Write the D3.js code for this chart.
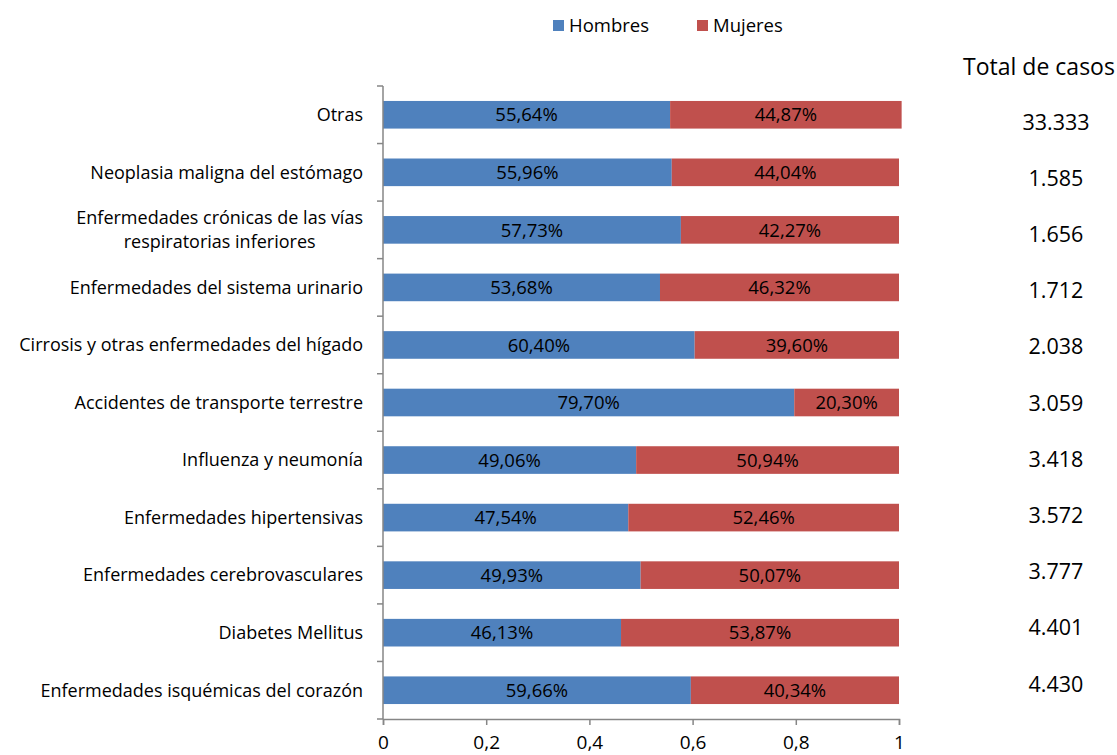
<!DOCTYPE html>
<html>
<head>
<meta charset="utf-8">
<script src="https://cdn.jsdelivr.net/npm/d3@7"></script>
<style>
  body { margin: 0; background: #fff; }
  text { font-family: "Open Sans", sans-serif; fill: #000; }
</style>
</head>
<body>
<script>
// categories, top to bottom
const categories = [
  "Otras",
  "Neoplasia maligna del estómago",
  "Enfermedades crónicas de las vías|respiratorias inferiores",
  "Enfermedades del sistema urinario",
  "Cirrosis y otras enfermedades del hígado",
  "Accidentes de transporte terrestre",
  "Influenza y neumonía",
  "Enfermedades hipertensivas",
  "Enfermedades cerebrovasculares",
  "Diabetes Mellitus",
  "Enfermedades isquémicas del corazón"
];
const hombres = [55.64, 55.96, 57.73, 53.68, 60.40, 79.70, 49.06, 47.54, 49.93, 46.13, 59.66];
const mujeres = [44.87, 44.04, 42.27, 46.32, 39.60, 20.30, 50.94, 52.46, 50.07, 53.87, 40.34];
const totales = ["33.333", "1.585", "1.656", "1.712", "2.038", "3.059", "3.418", "3.572", "3.777", "4.401", "4.430"];
const xTicks = [0, 0.2, 0.4, 0.6, 0.8, 1];
const series = ["Hombres", "Mujeres"];

const WIDTH = 1117, HEIGHT = 755;
const MARGIN = { top: 86, left: 383, right: 218, bottom: 36 };
const colors = { Hombres: "#4F81BD", Mujeres: "#C0504D" };

const svg = d3.select("body").append("svg")
  .attr("width", WIDTH)
  .attr("height", HEIGHT);

const x = d3.scaleLinear().domain([0, 1]).range([MARGIN.left, WIDTH - MARGIN.right]);
const y = d3.scaleBand().domain(categories)
  .range([MARGIN.top, HEIGHT - MARGIN.bottom])
  .paddingInner(0.52).paddingOuter(0.26);

// bars
const rows = categories.map((c, i) => ({ cat: c, h: hombres[i] / 100, m: mujeres[i] / 100, hl: hombres[i], ml: mujeres[i] }));

const g = svg.append("g");
g.selectAll("rect.h").data(rows).enter().append("rect")
  .attr("class", "h")
  .attr("x", x(0))
  .attr("y", d => y(d.cat))
  .attr("width", d => x(d.h) - x(0))
  .attr("height", y.bandwidth())
  .attr("fill", colors.Hombres);

g.selectAll("rect.m").data(rows).enter().append("rect")
  .attr("class", "m")
  .attr("x", d => x(d.h))
  .attr("y", d => y(d.cat))
  .attr("width", d => x(d.h + d.m) - x(d.h))
  .attr("height", y.bandwidth())
  .attr("fill", colors.Mujeres);

const fmt = v => v.toFixed(2).replace(".", ",") + "%";

g.selectAll("text.hl").data(rows).enter().append("text")
  .attr("x", d => (x(0) + x(d.h)) / 2)
  .attr("y", d => y(d.cat) + y.bandwidth() / 2)
  .attr("dy", "0.36em")
  .attr("text-anchor", "middle")
  .attr("font-size", "18.5px")
  .text(d => fmt(d.hl));

g.selectAll("text.ml").data(rows).enter().append("text")
  .attr("x", d => (x(d.h) + x(d.h + d.m)) / 2)
  .attr("y", d => y(d.cat) + y.bandwidth() / 2)
  .attr("dy", "0.36em")
  .attr("text-anchor", "middle")
  .attr("font-size", "18.5px")
  .text(d => fmt(d.ml));

// y axis line + ticks at band boundaries
const axisColor = "#868686";
const yBottom = HEIGHT - MARGIN.bottom;
svg.append("line")
  .attr("x1", x(0)).attr("x2", x(0))
  .attr("y1", MARGIN.top).attr("y2", yBottom)
  .attr("stroke", axisColor).attr("stroke-width", 1.5);

const step = y.step();
const bounds = d3.range(categories.length + 1).map(i => y(categories[0]) - (step - y.bandwidth()) / 2 + i * step);
svg.selectAll("line.ytick").data(bounds).enter().append("line")
  .attr("x1", x(0) - 6).attr("x2", x(0))
  .attr("y1", d => d).attr("y2", d => d)
  .attr("stroke", axisColor).attr("stroke-width", 1.5);

// category labels
const labels = svg.append("g");
rows.forEach(d => {
  const lines = d.cat.split("|");
  const cy = y(d.cat) + y.bandwidth() / 2;
  const t = labels.append("text")
    .attr("font-size", "18px")
    .attr("text-anchor", lines.length > 1 ? "middle" : "end");
  lines.forEach((l, j) => {
    t.append("tspan")
      .attr("x", 0)
      .attr("y", cy + (j - (lines.length - 1) / 2) * 24)
      .attr("dy", "0.35em")
      .text(l);
  });
  if (lines.length > 1) {
    const w = d3.max(t.selectAll("tspan").nodes(), n => n.getComputedTextLength());
    t.selectAll("tspan").attr("x", x(0) - 20 - w / 2);
  } else {
    t.selectAll("tspan").attr("x", x(0) - 20);
  }
});

// x axis
const xAxis = d3.axisBottom(x)
  .tickValues(xTicks)
  .tickSize(6)
  .tickFormat(d => String(d).replace(".", ","));
const xa = svg.append("g")
  .attr("transform", "translate(0," + yBottom + ")")
  .call(xAxis);
xa.select(".domain").attr("stroke", axisColor).attr("stroke-width", 1.5);
xa.selectAll(".tick line").attr("stroke", axisColor).attr("stroke-width", 1.5);
xa.selectAll(".tick text")
  .attr("font-size", "19px")
  .attr("font-family", "'Open Sans', sans-serif")
  .attr("fill", "#000")
  .attr("dy", "1.12em");

// totals column
svg.append("text")
  .attr("x", 1039).attr("y", 67)
  .attr("dy", "0.35em")
  .attr("text-anchor", "middle")
  .attr("font-size", "23px")
  .text("Total de casos");

const yt = d3.scalePoint().domain(categories).range([122, 684]);
svg.selectAll("text.total").data(rows).enter().append("text")
  .attr("x", 1056)
  .attr("y", (d, i) => yt(d.cat))
  .attr("dy", "0.35em")
  .attr("text-anchor", "middle")
  .attr("font-size", "21.5px")
  .text((d, i) => totales[i]);

// legend
const legendX = { Hombres: 553, Mujeres: 697 };
series.forEach(s => {
  svg.append("rect")
    .attr("x", legendX[s]).attr("y", 20)
    .attr("width", 11).attr("height", 11)
    .attr("fill", colors[s]);
  svg.append("text")
    .attr("x", legendX[s] + 16).attr("y", 25.5)
    .attr("dy", "0.35em")
    .attr("font-size", "18.5px")
    .text(s);
});
</script>
</body>
</html>
